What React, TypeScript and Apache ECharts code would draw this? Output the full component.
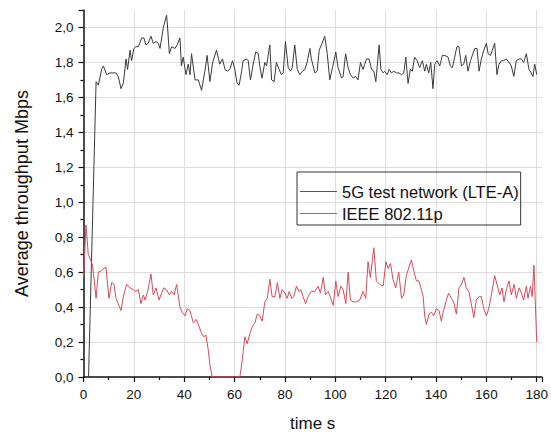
import React, { useEffect, useRef } from "react";
import * as echarts from "echarts";

const seriesNames = ["5G test network (LTE-A)", "IEEE 802.11p"];

// [time s, Mbps]
const lteData: [number, number][] = [
  [2, 0], [5, 1.69], [5.9, 1.67], [7.2, 1.76], [7.9, 1.78], [9.2, 1.73], [10.5, 1.74], [11.8, 1.74],
  [12.9, 1.74], [13.8, 1.72], [14.9, 1.65], [15.8, 1.68], [16.9, 1.82], [17.5, 1.76], [18.5, 1.87],
  [19.1, 1.81], [20, 1.88], [20.8, 1.89], [21.8, 1.89], [23.1, 1.94], [24, 1.94], [24.8, 1.9],
  [25.7, 1.91], [26.8, 1.95], [27.7, 1.91], [28.8, 1.92], [29.7, 1.91], [30.4, 1.88], [31.7, 2.0],
  [33, 2.07], [33.3, 2.02], [34.1, 1.85], [35, 1.89], [36.3, 1.88], [37.2, 1.9], [38.3, 1.94],
  [38.9, 1.78], [39.6, 1.83], [40.7, 1.73], [41.6, 1.79], [42.3, 1.73], [42.9, 1.85], [44.3, 1.7],
  [45.6, 1.7], [46.9, 1.64], [48.2, 1.75], [49.1, 1.84], [50.2, 1.69], [51.3, 1.8], [52.8, 1.87],
  [54.1, 1.79], [55.2, 1.82], [56.2, 1.76], [57.1, 1.75], [58.1, 1.76], [59.2, 1.81], [60.1, 1.76],
  [61, 1.68], [61.8, 1.67], [62.8, 1.75], [63.4, 1.81], [64.8, 1.82], [65.4, 1.81], [66.3, 1.7],
  [67.4, 1.79], [68.4, 1.86], [69.4, 1.85], [70, 1.78], [70.9, 1.71], [72, 1.8], [72.7, 1.78],
  [74, 1.9], [74.7, 1.7], [75.7, 1.69], [76.6, 1.8], [77.7, 1.76], [78.6, 1.73], [79.3, 1.74],
  [80.2, 1.92], [81.3, 1.77], [82.2, 1.75], [82.9, 1.77], [83.9, 1.9], [84.9, 1.76], [85.9, 1.73],
  [87, 1.75], [87.9, 1.76], [88.8, 1.8], [89.9, 1.88], [90.5, 1.82], [91.9, 1.74], [92.8, 1.75],
  [93.6, 1.87], [94.5, 1.9], [95.8, 1.95], [96.8, 1.85], [97.8, 1.7], [98.9, 1.77], [100.2, 1.86],
  [101.1, 1.77], [102.5, 1.71], [103.1, 1.72], [104.1, 1.85], [105.1, 1.77], [106, 1.73],
  [107.1, 1.71], [108.1, 1.72], [109, 1.7], [110, 1.8], [111, 1.76], [111.7, 1.79], [112.4, 1.82],
  [113.4, 1.82], [114.4, 1.76], [115.3, 1.75], [116.1, 1.69], [117.4, 1.9], [118.1, 1.76],
  [119, 1.74], [119.6, 1.75], [120.6, 1.73], [121.4, 1.76], [122.3, 1.74], [123.2, 1.75],
  [124.3, 1.74], [125.3, 1.74], [126.3, 1.73], [127.2, 1.74], [128, 1.83], [128.9, 1.68],
  [129.8, 1.76], [130.6, 1.75], [131.5, 1.83], [132.5, 1.81], [133.5, 1.77], [134.6, 1.81],
  [135.5, 1.75], [136.2, 1.79], [137.1, 1.74], [137.9, 1.8], [138.8, 1.65], [139.5, 1.79],
  [140.4, 1.81], [141.5, 1.78], [142.5, 1.84], [143.5, 1.84], [144.8, 1.83], [145.7, 1.78],
  [146.5, 1.77], [147.4, 1.83], [148.3, 1.89], [149.1, 1.89], [150.1, 1.78], [151, 1.79],
  [151.8, 1.84], [152.7, 1.75], [153.7, 1.81], [154.4, 1.84], [155.4, 1.88], [156.3, 1.88],
  [157.1, 1.75], [158, 1.82], [159, 1.87], [160, 1.91], [160.7, 1.85], [161.6, 1.84], [162.4, 1.87],
  [163.3, 1.91], [164.2, 1.73], [165, 1.79], [165.9, 1.81], [166.9, 1.81], [167.9, 1.82], [169, 1.8],
  [169.9, 1.78], [170.9, 1.72], [171.9, 1.81], [173, 1.82], [173.9, 1.82], [174.8, 1.8],
  [175.9, 1.85], [176.9, 1.76], [177.8, 1.74], [178.5, 1.72], [179.2, 1.79], [180, 1.73],
];

const wifiData: [number, number][] = [
  [0, 0.57], [1, 0.87], [1.9, 0.7], [2.8, 0.67], [3.6, 0.64], [5, 0.45], [5.9, 0.6], [7.2, 0.61],
  [8.9, 0.63], [10.1, 0.45], [11.2, 0.54], [12.1, 0.53], [12.9, 0.45], [13.8, 0.42], [14.9, 0.38],
  [15.8, 0.46], [17.1, 0.53], [18.5, 0.51], [19.8, 0.5], [20.7, 0.49], [21.8, 0.5], [22.8, 0.42],
  [23.8, 0.47], [24.4, 0.44], [25.5, 0.49], [26.8, 0.59], [27.7, 0.47], [28.8, 0.51], [30, 0.44],
  [31, 0.48], [31.9, 0.51], [33, 0.5], [34.1, 0.47], [35, 0.49], [36, 0.47], [37, 0.53], [38.3, 0.4],
  [39.2, 0.37], [40.3, 0.35], [41.2, 0.39], [42.3, 0.38], [43.6, 0.31], [44.7, 0.33], [45.6, 0.3],
  [46.9, 0.25], [47.8, 0.23], [48.6, 0.24], [49.5, 0.16], [50.2, 0.07], [51.1, 0], [62.1, 0],
  [62.8, 0.07], [64.1, 0.23], [65, 0.19], [66.1, 0.25], [67.1, 0.29], [68.1, 0.31], [69, 0.36],
  [70, 0.35], [71, 0.32], [72, 0.43], [73, 0.45], [74, 0.56], [74.9, 0.46], [76, 0.46], [77, 0.54],
  [78, 0.45], [78.9, 0.5], [80, 0.48], [80.9, 0.45], [81.7, 0.49], [82.7, 0.45], [83.5, 0.46],
  [84.6, 0.52], [85.5, 0.49], [86.3, 0.5], [87.2, 0.46], [88.2, 0.42], [89.2, 0.46], [90.5, 0.49],
  [91.9, 0.49], [93.2, 0.52], [94.1, 0.48], [95.2, 0.57], [96.1, 0.47], [97.2, 0.49], [98.2, 0.45],
  [99.2, 0.41], [100.2, 0.55], [101.1, 0.46], [102.2, 0.52], [103.1, 0.5], [104.2, 0.42],
  [105.1, 0.6], [106, 0.44], [107.1, 0.43], [108.4, 0.43], [109.7, 0.44], [111, 0.49], [112.1, 0.45],
  [113, 0.66], [113.9, 0.57], [115.3, 0.74], [116.3, 0.55], [117.6, 0.53], [119, 0.52], [120.1, 0.66],
  [121, 0.62], [121.9, 0.65], [122.9, 0.56], [124, 0.51], [125.2, 0.6], [126.3, 0.45], [127.2, 0.47],
  [128.2, 0.58], [129.3, 0.63], [130.2, 0.67], [131.3, 0.6], [132.2, 0.55], [133.2, 0.55],
  [134.2, 0.5], [134.9, 0.46], [135.5, 0.35], [136.2, 0.3], [137.2, 0.36], [138.2, 0.37],
  [139.1, 0.35], [140.1, 0.39], [141.2, 0.38], [142.1, 0.32], [143, 0.38], [144.1, 0.44], [145, 0.48],
  [146.1, 0.45], [147, 0.43], [148.1, 0.36], [149.1, 0.51], [150.1, 0.53], [151.1, 0.57], [152, 0.51],
  [153, 0.49], [154, 0.42], [155, 0.34], [156, 0.44], [157.1, 0.46], [158, 0.46], [159, 0.39],
  [160, 0.35], [160.9, 0.39], [162, 0.47], [163.3, 0.58], [164.2, 0.53], [165.3, 0.47], [166.2, 0.51],
  [167, 0.43], [167.9, 0.5], [169, 0.55], [169.9, 0.47], [171, 0.53], [171.9, 0.45], [173, 0.51],
  [173.9, 0.48], [174.8, 0.44], [175.9, 0.52], [176.5, 0.45], [177.5, 0.52], [178.2, 0.46],
  [178.9, 0.64], [180, 0.2],
];

const FONT = "'Liberation Sans', Arial, sans-serif";
const LTE_COLOR = "#3a3a3a";
const WIFI_COLOR = "#d94a58";

export default function App() {
  const ref = useRef<HTMLDivElement>(null);
  useEffect(() => {
    if (!ref.current) return;
    const chart = echarts.init(ref.current, undefined, { renderer: "svg" });
    const axisCommon = {
      axisLine: { show: true, onZero: false, lineStyle: { color: "#111", width: 1.5 } },
      axisTick: { show: true, inside: false, length: 5, lineStyle: { color: "#111", width: 1.2 } },
      minorTick: { show: true, splitNumber: 2, length: 3, lineStyle: { color: "#111", width: 1.2 } },
      splitLine: { show: true, showMinLine: false, showMaxLine: false, lineStyle: { color: "#dedede", width: 1 } },
    };
    chart.setOption({
      animation: false,
      backgroundColor: "#fff",
      textStyle: { fontFamily: FONT },
      grid: { left: 83.5, right: 9, top: 10, bottom: 57.5, containLabel: false },
      legend: {
        orient: "vertical",
        left: 297,
        top: 172,
        padding: [10, 2, 2, 3],
        icon: "rect",
        itemWidth: 37,
        itemHeight: 1,
        itemGap: 3,
        borderColor: "#333",
        borderWidth: 1,
        borderRadius: 0,
        backgroundColor: "transparent",
        textStyle: { fontFamily: FONT, fontSize: 16.5, color: "#111", lineHeight: 19 },
        data: [
          { name: seriesNames[0], itemStyle: { color: "#555" } },
          { name: seriesNames[1], itemStyle: { color: WIFI_COLOR } },
        ],
      },
      xAxis: {
        type: "value",
        min: 0,
        max: 182,
        interval: 20,
        name: "time s",
        nameLocation: "middle",
        nameGap: 38,
        nameTextStyle: { fontFamily: FONT, fontSize: 17, color: "#111" },
        ...axisCommon,
        axisLabel: { fontFamily: FONT, fontSize: 13.5, color: "#111", margin: 10, showMaxLabel: false },
      },
      yAxis: {
        type: "value",
        min: 0,
        max: 2.1,
        interval: 0.2,
        name: "Average throughput Mbps",
        nameLocation: "middle",
        nameGap: 53,
        nameTextStyle: { fontFamily: FONT, fontSize: 18, color: "#111" },
        ...axisCommon,
        axisLabel: {
          fontFamily: FONT,
          fontSize: 13.5,
          color: "#111",
          margin: 10,
          showMaxLabel: false,
          formatter: (v: number) => v.toFixed(1).replace(".", ","),
        },
      },
      series: [
        {
          name: seriesNames[0],
          type: "line",
          data: lteData,
          symbol: "none",
          lineStyle: { color: LTE_COLOR, width: 1 },
          itemStyle: { color: LTE_COLOR },
        },
        {
          name: seriesNames[1],
          type: "line",
          data: wifiData,
          symbol: "none",
          lineStyle: { color: WIFI_COLOR, width: 1 },
          itemStyle: { color: WIFI_COLOR },
        },
      ],
    });
    return () => chart.dispose();
  }, []);
  return (
    <div
      ref={ref}
      style={{ position: "fixed", left: 0, top: 0, width: 551, height: 437, background: "#fff" }}
    />
  );
}
